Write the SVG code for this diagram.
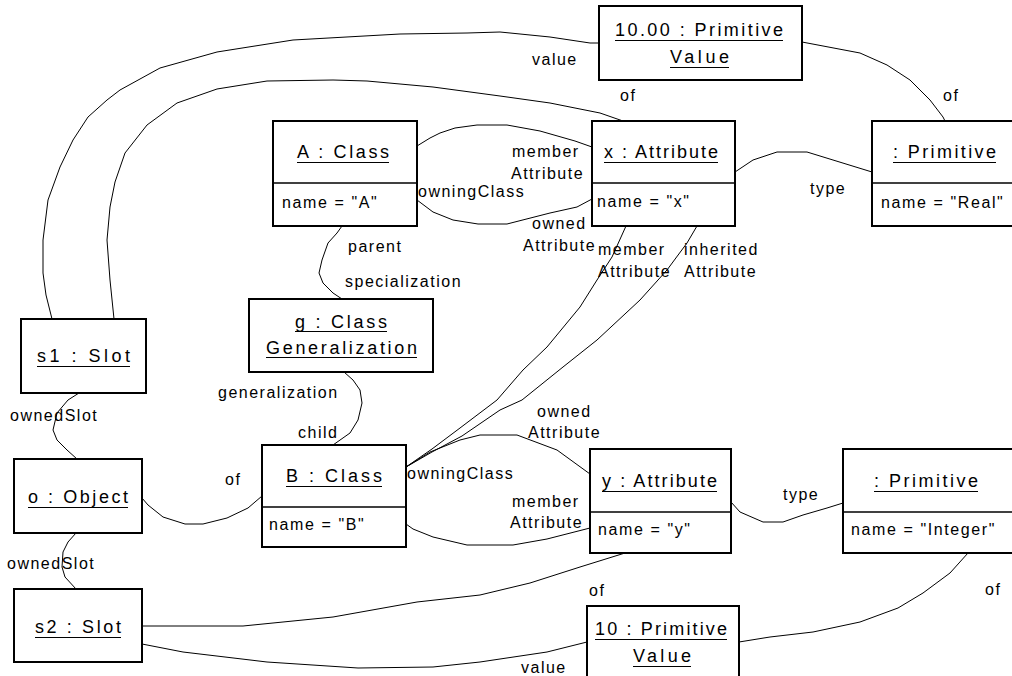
<svg xmlns="http://www.w3.org/2000/svg" width="1012" height="676" viewBox="0 0 1012 676">
<style>
.box{fill:#fff;stroke:#000;stroke-width:2}
.div{stroke:#000;stroke-width:1.6}
.ul{stroke:#000;stroke-width:1}
.t{font-family:"Liberation Sans",Arial,sans-serif;font-size:18px;fill:#000}
.a{font-family:"Liberation Sans",Arial,sans-serif;font-size:16px;letter-spacing:1.6px;fill:#000}
.l{font-family:"Liberation Sans",Arial,sans-serif;font-size:16px;letter-spacing:1.5px;fill:#000}
.c{fill:none;stroke:#000;stroke-width:1;stroke-linejoin:round}
</style>
<rect width="1012" height="676" fill="#fff"/>
<g id="connectors">
<polyline class="c" points="52,319 46,295 43,273 43,240 48,200 60,167 73,140 88,117 107,100 120,90 160,68 217,52 293,40 400,34 467,33 500,32 550,37 590,43 599,43"/>
<polyline class="c" points="114,319 110,280 107,240 110,207 115,182 125,153 147,125 177,103 217,89 267,81 333,80 367,81 433,87 500,96 550,103 600,113 623,121"/>
<polyline class="c" points="417,146 430,138 440,133 455,128 477,125 507,125 540,131 575,141 592,147"/>
<polyline class="c" points="417,200 433,212 453,220 478,224 507,224 550,213 577,207 592,199"/>
<polyline class="c" points="735,172 753,160 777,152 807,152 872,172"/>
<polyline class="c" points="802,42 860,53 887,65 910,80 930,100 943,117 945,121"/>
<polyline class="c" points="342,226 337,233 328,243 322,260 319,273 323,283 333,293 342,299"/>
<polyline class="c" points="344,372 353,380 360,390 362,403 358,420 350,433 333,445"/>
<polyline class="c" points="79,393 68,400 57,413 53,430 57,440 67,450 77,459"/>
<polyline class="c" points="76,533 68,542 63,552 62,567 65,577 76,589"/>
<polyline class="c" points="142,498 148,505 163,517 185,524 203,524 227,518 248,508 262,496"/>
<polyline class="c" points="406,467 432,449 460,428 497,400 523,370 547,347 580,307 597,280 612,257 626,226"/>
<polyline class="c" points="406,467 432,452 462,436 500,410 522,400 563,367 597,340 640,300 667,270 687,243 697,226"/>
<polyline class="c" points="406,467 430,452 460,440 480,435 517,435 557,450 590,474"/>
<polyline class="c" points="406,524 413,529 433,537 467,545 513,545 547,539 590,528"/>
<polyline class="c" points="731,502 740,512 763,522 783,522 803,515 827,508 843,503"/>
<polyline class="c" points="142,626 243,626 333,617 417,602 480,595 530,583 580,567 625,553"/>
<polyline class="c" points="142,644 183,652 267,662 358,668 433,667 480,662 547,652 587,642"/>
<polyline class="c" points="968,553 950,573 923,593 898,608 860,622 813,632 770,637 739,642"/>
<text class="l" x="532" y="65">value</text>
<text class="l" x="620" y="101">of</text>
<text class="l" x="943" y="101">of</text>
<text class="l" x="512" y="157">member</text>
<text class="l" x="511" y="179">Attribute</text>
<text class="l" x="418" y="197">owningClass</text>
<text class="l" x="532" y="229">owned</text>
<text class="l" x="523" y="251">Attribute</text>
<text class="l" x="598" y="255">member</text>
<text class="l" x="598" y="277">Attribute</text>
<text class="l" x="684" y="255">inherited</text>
<text class="l" x="684" y="277">Attribute</text>
<text class="l" x="810" y="194">type</text>
<text class="l" x="348" y="252">parent</text>
<text class="l" x="345" y="287">specialization</text>
<text class="l" x="218" y="398">generalization</text>
<text class="l" x="298" y="438">child</text>
<text class="l" x="10" y="421">ownedSlot</text>
<text class="l" x="225" y="485">of</text>
<text class="l" x="407" y="479">owningClass</text>
<text class="l" x="537" y="417">owned</text>
<text class="l" x="528" y="438">Attribute</text>
<text class="l" x="512" y="507">member</text>
<text class="l" x="510" y="528">Attribute</text>
<text class="l" x="783" y="500">type</text>
<text class="l" x="7" y="569">ownedSlot</text>
<text class="l" x="589" y="596">of</text>
<text class="l" x="985" y="595">of</text>
<text class="l" x="521" y="673">value</text>
</g>
<g id="n_val1000">
<rect class="box" x="599" y="6" width="203" height="74"/>
<text class="t" x="615" y="36" textLength="168" lengthAdjust="spacing">10.00 : Primitive</text>
<line class="ul" x1="615" y1="40.5" x2="783" y2="40.5"/>
<text class="t" x="670" y="63" textLength="59" lengthAdjust="spacing">Value</text>
<line class="ul" x1="670" y1="67.5" x2="729" y2="67.5"/>
</g>
<g id="n_xattr">
<rect class="box" x="592" y="121" width="143" height="105"/>
<line class="div" x1="592" y1="183" x2="735" y2="183"/>
<text class="t" x="604" y="158" textLength="114" lengthAdjust="spacing">x : Attribute</text>
<line class="ul" x1="604" y1="162.5" x2="718" y2="162.5"/>
<text class="a" x="597" y="207">name = "x"</text>
</g>
<g id="n_primReal">
<rect class="box" x="872" y="121" width="150" height="105"/>
<line class="div" x1="872" y1="183" x2="1012" y2="183"/>
<text class="t" x="893" y="158" textLength="103" lengthAdjust="spacing">: Primitive</text>
<line class="ul" x1="893" y1="162.5" x2="996" y2="162.5"/>
<text class="a" x="881" y="208">name = "Real"</text>
</g>
<g id="n_aclass">
<rect class="box" x="273" y="121" width="144" height="105"/>
<line class="div" x1="273" y1="183" x2="417" y2="183"/>
<text class="t" x="297" y="158" textLength="92" lengthAdjust="spacing">A : Class</text>
<line class="ul" x1="297" y1="162.5" x2="389" y2="162.5"/>
<text class="a" x="282" y="208">name = "A"</text>
</g>
<g id="n_gen">
<rect class="box" x="249" y="299" width="184" height="73"/>
<text class="t" x="295" y="328" textLength="92" lengthAdjust="spacing">g : Class</text>
<line class="ul" x1="295" y1="331.5" x2="387" y2="331.5"/>
<text class="t" x="266" y="354" textLength="151" lengthAdjust="spacing">Generalization</text>
<line class="ul" x1="266" y1="357.5" x2="417" y2="357.5"/>
</g>
<g id="n_s1">
<rect class="box" x="21" y="319" width="125" height="74"/>
<text class="t" x="37" y="362" textLength="93" lengthAdjust="spacing">s1 :  Slot</text>
<line class="ul" x1="37" y1="366.5" x2="130" y2="366.5"/>
</g>
<g id="n_obj">
<rect class="box" x="14" y="459" width="128" height="74"/>
<text class="t" x="28" y="503" textLength="100" lengthAdjust="spacing">o : Object</text>
<line class="ul" x1="28" y1="507.5" x2="128" y2="507.5"/>
</g>
<g id="n_bclass">
<rect class="box" x="262" y="445" width="144" height="102"/>
<line class="div" x1="262" y1="507" x2="406" y2="507"/>
<text class="t" x="286" y="482" textLength="96" lengthAdjust="spacing">B : Class</text>
<line class="ul" x1="286" y1="486.5" x2="382" y2="486.5"/>
<text class="a" x="269" y="530">name = "B"</text>
</g>
<g id="n_s2">
<rect class="box" x="14" y="589" width="128" height="73"/>
<text class="t" x="35" y="633" textLength="86" lengthAdjust="spacing">s2 : Slot</text>
<line class="ul" x1="35" y1="637.5" x2="121" y2="637.5"/>
</g>
<g id="n_yattr">
<rect class="box" x="590" y="449" width="141" height="104"/>
<line class="div" x1="590" y1="512" x2="731" y2="512"/>
<text class="t" x="602" y="487" textLength="115" lengthAdjust="spacing">y : Attribute</text>
<line class="ul" x1="602" y1="491.5" x2="717" y2="491.5"/>
<text class="a" x="598" y="535">name = "y"</text>
</g>
<g id="n_primInt">
<rect class="box" x="843" y="449" width="179" height="104"/>
<line class="div" x1="843" y1="512" x2="1012" y2="512"/>
<text class="t" x="874" y="487" textLength="104" lengthAdjust="spacing">: Primitive</text>
<line class="ul" x1="874" y1="491.5" x2="978" y2="491.5"/>
<text class="a" x="851" y="535">name = "Integer"</text>
</g>
<g id="n_val10">
<rect class="box" x="587" y="606" width="152" height="80"/>
<text class="t" x="595" y="635" textLength="132" lengthAdjust="spacing">10 : Primitive</text>
<line class="ul" x1="595" y1="639.5" x2="727" y2="639.5"/>
<text class="t" x="633" y="662" textLength="58" lengthAdjust="spacing">Value</text>
<line class="ul" x1="633" y1="666.5" x2="691" y2="666.5"/>
</g>
</svg>
